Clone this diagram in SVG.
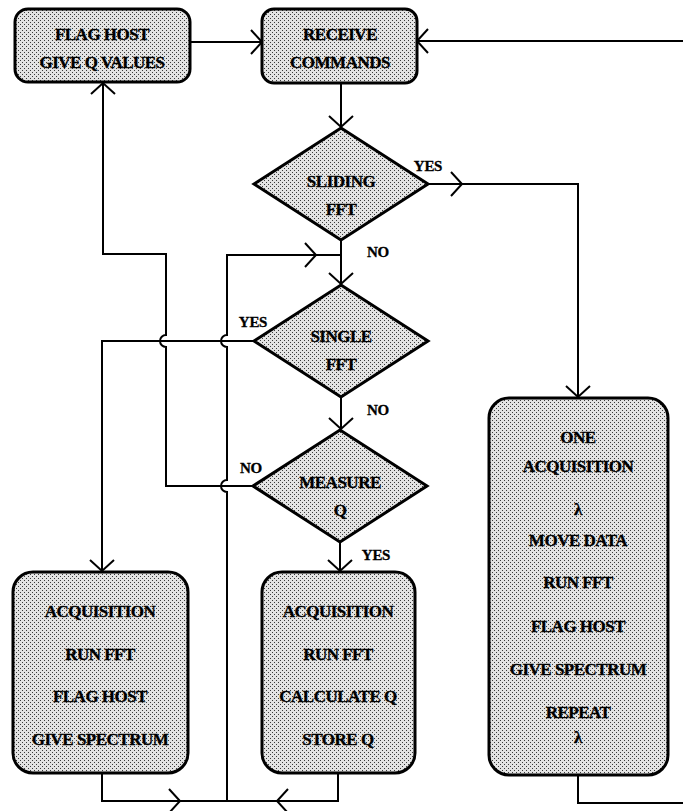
<svg xmlns="http://www.w3.org/2000/svg" width="683" height="811" viewBox="0 0 683 811">
<style>
.box{fill:url(#dots);stroke:#000;stroke-width:3}
.t{font-family:"Liberation Serif","Times New Roman",serif;font-weight:bold;font-size:17px;text-anchor:middle;fill:#000;stroke:#000;stroke-width:0.35;letter-spacing:-0.5px}
.l{font-family:"Liberation Serif","Times New Roman",serif;font-weight:bold;font-size:15px;text-anchor:middle;fill:#000;stroke:#000;stroke-width:0.3;letter-spacing:-0.3px}
.c{fill:none;stroke:#000;stroke-width:2}
.a{marker-end:url(#v)}
</style>
<defs>
<pattern id="dots" width="4" height="4" patternUnits="userSpaceOnUse">
<rect width="4" height="4" fill="#e3e3e3"/>
<rect x="0" y="0" width="1" height="1" fill="#3a3a3a"/>
<rect x="2" y="2" width="1" height="1" fill="#3a3a3a"/>
</pattern>
<marker id="v" markerUnits="userSpaceOnUse" viewBox="-12 -14 14 28" refX="0" refY="0" markerWidth="14" markerHeight="28" orient="auto" overflow="visible">
<path d="M-11,-12 L0,0 L-11,12" fill="none" stroke="#000" stroke-width="2"/>
</marker>
</defs>
<rect width="683" height="811" fill="#fff"/>
<g id="connectors">
<path class="c a" d="M190,42 H262"/>
<path class="c a" d="M683,41 H417"/>
<path class="c" d="M578,775 V803 H683"/>
<path class="c a" d="M341,83 V127"/>
<path class="c a" d="M428,184 H462"/>
<path class="c a" d="M462,184 H578 V397"/>
<path class="c a" d="M341,240 V284"/>
<path class="c a" d="M341,397 V429"/>
<path class="c a" d="M340,542 V571"/>
<path class="c a" d="M254,341 H102 V571"/>
<path class="c a" d="M253,486 H166 V347 A6,6 0 0 1 166,335 V254 H103 V83"/>
<path class="c a" d="M102,773 V801 H180"/>
<path class="c" d="M180,801 H338 V773"/>
<path class="c a" d="M338,773 V801 H277"/>
<path class="c a" d="M227,801 V492 A6,6 0 0 1 227,480 V347 A6,6 0 0 1 227,335 V255 H316"/>
<path class="c" d="M316,255 H341"/>
</g>
<g id="labels">
<text class="l" x="428" y="171">YES</text>
<text class="l" x="378" y="257">NO</text>
<text class="l" x="253" y="327">YES</text>
<text class="l" x="378" y="415">NO</text>
<text class="l" x="251" y="473">NO</text>
<text class="l" x="376" y="560">YES</text>
</g>
<g id="flag-host">
<rect class="box" x="15" y="9" width="175" height="73" rx="13"/>
<text class="t" x="102" y="40">FLAG HOST</text>
<text class="t" x="102" y="68">GIVE Q VALUES</text>
</g>
<g id="receive">
<rect class="box" x="262" y="9" width="155" height="74" rx="12"/>
<text class="t" x="340" y="40">RECEIVE</text>
<text class="t" x="340" y="68">COMMANDS</text>
</g>
<g id="sliding">
<polygon class="box" points="341,128 428,184 341,240 254,184"/>
<text class="t" x="341" y="187">SLIDING</text>
<text class="t" x="341" y="215">FFT</text>
</g>
<g id="single">
<polygon class="box" points="341,285 428,341 341,397 254,341"/>
<text class="t" x="341" y="342">SINGLE</text>
<text class="t" x="341" y="370">FFT</text>
</g>
<g id="measure">
<polygon class="box" points="340,430 427,486 340,542 253,486"/>
<text class="t" x="340" y="488">MEASURE</text>
<text class="t" x="340" y="516">Q</text>
</g>
<g id="single-acq">
<rect class="box" x="13" y="572" width="175" height="201" rx="20"/>
<text class="t" x="100" y="617">ACQUISITION</text>
<text class="t" x="100" y="660">RUN FFT</text>
<text class="t" x="100" y="702">FLAG HOST</text>
<text class="t" x="100" y="745">GIVE SPECTRUM</text>
</g>
<g id="q-acq">
<rect class="box" x="262" y="572" width="153" height="201" rx="20"/>
<text class="t" x="338" y="617">ACQUISITION</text>
<text class="t" x="338" y="660">RUN FFT</text>
<text class="t" x="338" y="702">CALCULATE Q</text>
<text class="t" x="338" y="745">STORE Q</text>
</g>
<g id="sliding-acq">
<rect class="box" x="489" y="398" width="179" height="377" rx="20"/>
<text class="t" x="578" y="443">ONE</text>
<text class="t" x="578" y="472">ACQUISITION</text>
<text class="t" x="578" y="515">λ</text>
<text class="t" x="578" y="546">MOVE DATA</text>
<text class="t" x="578" y="588">RUN FFT</text>
<text class="t" x="578" y="632">FLAG HOST</text>
<text class="t" x="578" y="675">GIVE SPECTRUM</text>
<text class="t" x="578" y="718">REPEAT</text>
<text class="t" x="578" y="743">λ</text>
</g>
</svg>
